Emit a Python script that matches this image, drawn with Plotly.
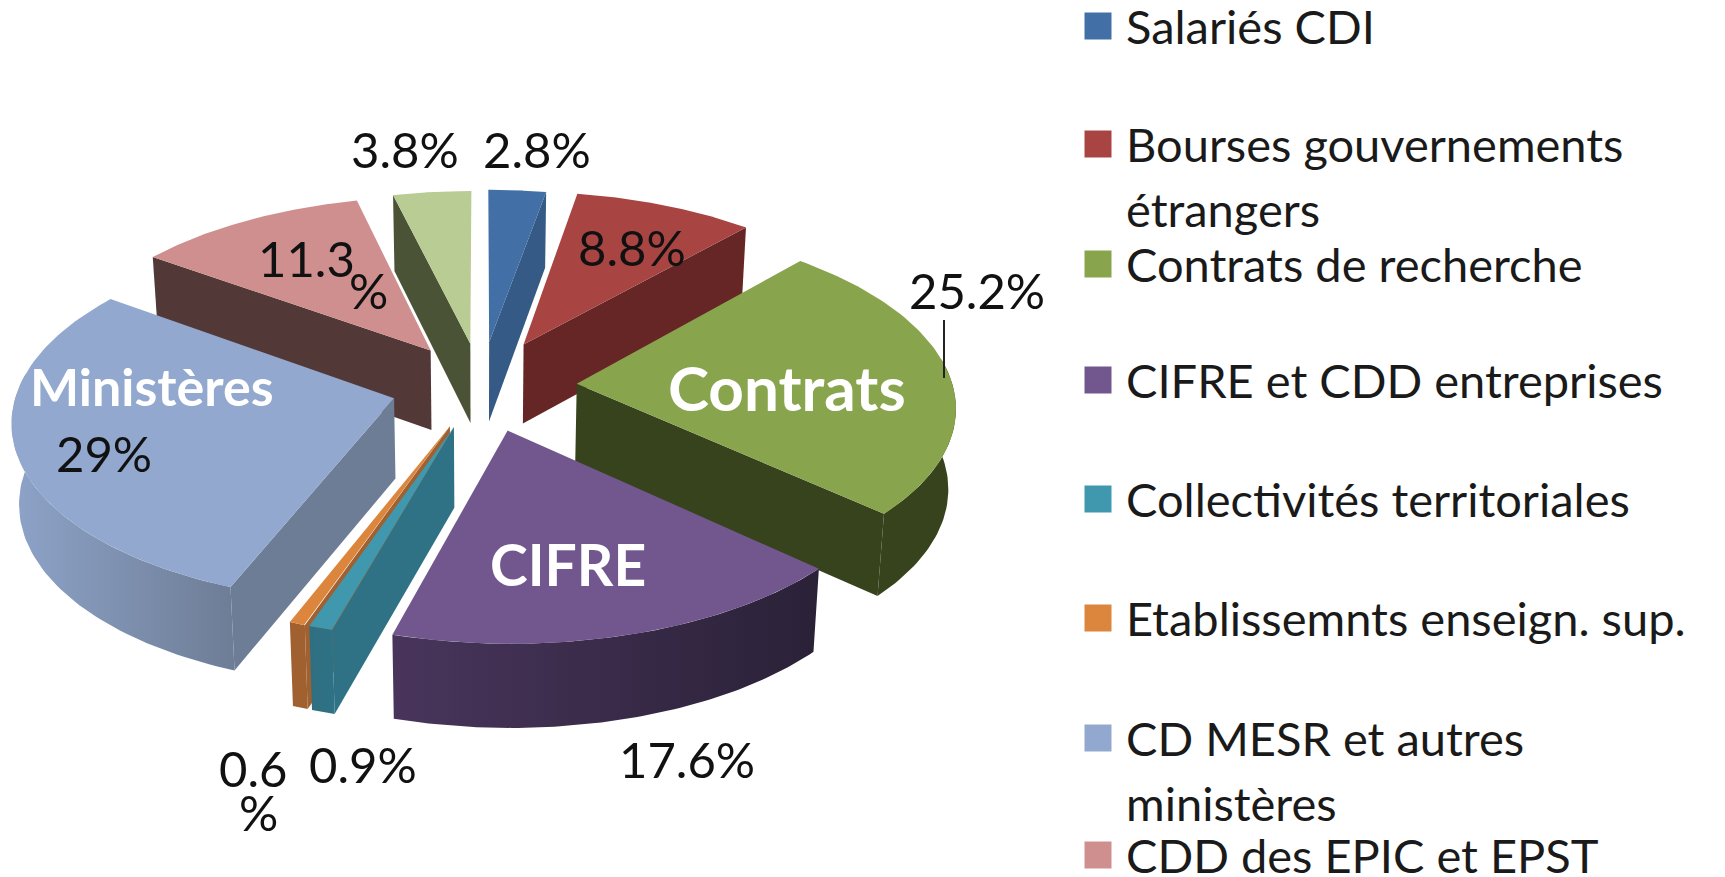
import numpy as np
import plotly.graph_objects as go

categories = ["Salariés CDI", "Bourses gouvernements<br>étrangers", "Contrats de recherche",
              "CIFRE et CDD entreprises", "Collectivités territoriales",
              "Etablissemnts enseign. sup.", "CD MESR et autres<br>ministères", "CDD des EPIC et EPST", ""]
values = [2.8, 8.8, 25.2, 17.6, 0.9, 0.6, 29, 11.3, 3.8]
top_colors = ["#4270a6", "#a84543", "#88a44d", "#71578e", "#4098ae", "#dc853c", "#92a8ce", "#cf8f8e", "#b8cc94"]
wall_colors = ["#345a85", "#672626", "#37431c", "#2a2137", "#2f7285", "#a06030", "#6e7d96", "#533838", "#4b5336"]
arc_colors = [["#345a85", "#345a85"], ["#672626", "#672626"], ["#37431c", "#37431c"],
              ["#49355c", "#2a2137"], ["#2f6f82", "#2f7285"], ["#a06030", "#a06030"],
              ["#8da3c8", "#6e7d96"], ["#533838", "#533838"], ["#4b5336", "#4b5336"]]
pull = [95, 100, 96, 95, 88, 88, 90, 92, 92]

legend_y = [26, 144, 264, 380, 499, 618, 738, 855]
pct_labels = ["2.8%", "8.8%", "25.2%", "17.6%", "0.9%", "0.6", "%", "29%", "11.3", "%", "3.8%"]
pct_x = [537, 632, 977, 687, 363, 253, 258, 104, 306, 368, 405]
pct_y = [149, 247, 290, 759, 764, 768, 812, 453, 258, 290, 149]
name_labels = ["Contrats", "CIFRE", "Ministères"]
name_x = [787, 568, 152]
name_y = [387, 564, 386]
name_size = [62, 57, 52]

cx, cy = 481, 386
R = 376
S = 0.475
D = 3367
H = 80


def project(u, v, h=0.0):
    p = 1 / (1 - v / D)
    x = cx + u * p * (1 - h * 0.0002)
    y = cy + v * S * p + h * (1 + v / 9000)
    return x, y


fig = go.Figure()

total = sum(values)
edges = np.cumsum([0] + values) / total * 2 * np.pi
slices = []
for i in range(len(values)):
    a0, a1 = edges[i], edges[i + 1]
    mid = (a0 + a1) / 2
    slices.append((pull[i] * -np.cos(mid), i, a0, a1, mid))
slices.sort()


def add_poly(xs, ys, color, gradient=None):
    kw = dict(fillcolor=color)
    if gradient:
        kw = dict(fillgradient=dict(type="horizontal", colorscale=[[0, gradient[0]], [1, gradient[1]]]))
    fig.add_trace(go.Scatter(x=xs, y=ys, mode="lines", fill="toself", line=dict(width=0),
                             hoverinfo="skip", showlegend=False, **kw))


for _, i, a0, a1, mid in slices:
    ou, ov = pull[i] * np.sin(mid), -pull[i] * np.cos(mid)
    t = np.linspace(a0, a1, 80)
    ru, rv = ou + R * np.sin(t), ov - R * np.cos(t)

    # radial walls that face the viewer
    if np.sin(a0) < 0:
        u = [ou, ru[0], ru[0], ou]
        v = [ov, rv[0], rv[0], ov]
        h = [0, 0, H, H]
        xs, ys = project(np.array(u), np.array(v), np.array(h))
        add_poly(xs, ys, wall_colors[i])
    if np.sin(a1) > 0:
        u = [ou, ru[-1], ru[-1], ou]
        v = [ov, rv[-1], rv[-1], ov]
        h = [0, 0, H, H]
        xs, ys = project(np.array(u), np.array(v), np.array(h))
        add_poly(xs, ys, wall_colors[i])

    # outer wall, front of the rim plus a little past the sides (the top is painted over it)
    front = np.cos(t) < 0.15
    if front.any():
        u, v = ru[front], rv[front]
        x0, y0 = project(u, v, 0)
        x1, y1 = project(u, v, H)
        add_poly(np.r_[x0, x1[::-1]], np.r_[y0, y1[::-1]], arc_colors[i][1], gradient=arc_colors[i])

    xs, ys = project(np.r_[ou, ru], np.r_[ov, rv], 0)
    add_poly(xs, ys, top_colors[i])

# legend keys
fig.add_trace(go.Scatter(x=[1098] * len(legend_y), y=legend_y, mode="markers", hoverinfo="skip", showlegend=False,
                         marker=dict(symbol="square", size=27, color=top_colors[:8])))

annotations = []
for name, y in zip(categories, legend_y):
    for k, line in enumerate(name.split("<br>")):
        annotations.append(dict(x=1124, y=y + k * 65, text=line, xanchor="left", yanchor="middle", showarrow=False,
                                font=dict(family="Lato", size=47, color="#1a1a1a")))
for text, x, y in zip(pct_labels, pct_x, pct_y):
    annotations.append(dict(x=x, y=y, text=text, showarrow=False, xanchor="center", yanchor="middle",
                            font=dict(family="Lato", size=49, color="#111111")))
for text, x, y, size in zip(name_labels, name_x, name_y, name_size):
    annotations.append(dict(x=x, y=y, text=f"<b>{text}</b>", showarrow=False, xanchor="center", yanchor="middle",
                            font=dict(family="Lato", size=size, color="white")))

fig.update_layout(
    width=1725, height=877, margin=dict(l=0, r=0, t=0, b=0),
    paper_bgcolor="white", plot_bgcolor="white", showlegend=False,
    xaxis=dict(range=[0, 1725], visible=False, fixedrange=True),
    yaxis=dict(range=[877, 0], visible=False, fixedrange=True),
    annotations=annotations,
    shapes=[dict(type="line", x0=944, x1=944, y0=320, y1=378, line=dict(color="#222222", width=2))],
)

# the page's default body margin would push the chart off by 8px
fig.write_html("out.html", config={"displayModeBar": False},
               post_script="document.body.style.margin='0';document.documentElement.style.overflow='hidden';")
